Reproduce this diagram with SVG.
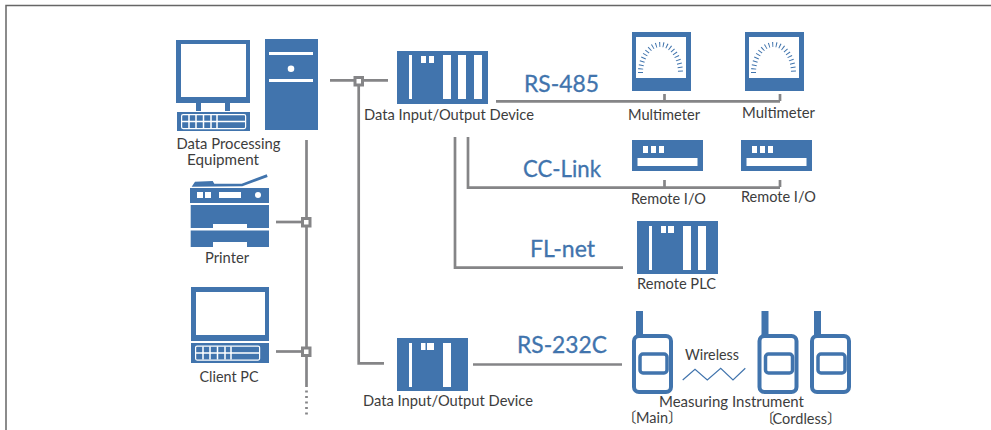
<svg xmlns="http://www.w3.org/2000/svg" width="991" height="430" viewBox="0 0 991 430">
<style>
.b{fill:#4174ad}
.w{fill:#fff}
.l{font-family:Lato,"Noto Sans","Liberation Sans",sans-serif;font-size:15px;fill:#3d3d3d;text-anchor:middle}
.s{font-family:Lato,"Noto Sans CJK JP",sans-serif;font-size:14.500px;fill:#3d3d3d}
.t{font-family:Lato,"Noto Sans","Liberation Sans",sans-serif;font-size:23px;font-weight:400;fill:#4174ad;stroke:#4174ad;stroke-width:.3;text-anchor:middle}
.c{fill:none;stroke:#858587;stroke-width:2.7}
.j{fill:#fff;stroke:#858587;stroke-width:3}
.o{fill:none;stroke:#4174ad}
</style>
<defs>
<g id="meter">
<rect class="b" width="59" height="59"/>
<rect class="w" x="4" y="5" width="50" height="41"/>
<path class="o" d="M8.500 41A20 28.500 0 0 1 48.500 41" stroke-width="5" stroke-dasharray="1 2.700"/>
</g>
<g id="rio">
<rect class="b" width="71" height="31"/>
<rect class="w" x="5.500" y="18" width="60" height="8"/>
<rect class="w" x="11" y="6" width="5" height="7"/>
<rect class="w" x="19" y="6" width="5" height="7"/>
<rect class="w" x="27" y="6" width="5" height="7"/>
</g>
<g id="radio">
<rect class="b" x="4" y="0" width="7" height="25"/>
<rect class="o" x="2" y="25" width="37" height="56" rx="5" fill="#fff" stroke-width="4"/>
<rect class="o" x="8" y="43" width="27" height="19" rx="3" stroke-width="3.500"/>
</g>
<g id="keys">
<rect x="0.600" y="0.600" width="64" height="14" rx="1.500" fill="none" stroke="#fff" stroke-width="1.200"/>
<path d="M1 7.500H64M8 1V14M15 1V14M22.500 1V14M30 1V14M36 1V14" stroke="#fff" stroke-width="1.500" fill="none"/>
</g>
</defs>
<path d="M6 430V5.500H991" fill="none" stroke="#666" stroke-width="1.500"/>
<g id="connectors">
<path class="c" d="M330 80.300H388"/>
<path class="c" d="M358.700 82V363.300H384"/>
<path class="c" d="M306.500 140V385"/>
<path class="c" d="M306.500 385V415" stroke-dasharray="2 3.500"/>
<path class="c" d="M276 222H306"/>
<path class="c" d="M276 351.500H306"/>
<path class="c" d="M496 101.300H780M664.500 94V101M780 94V101"/>
<path class="c" d="M468 137V187.700H780M664.500 180V187M780 180V187"/>
<path class="c" d="M455 137V267.700H623"/>
<path class="c" d="M473 364.500H622"/>
<rect class="j" x="355" y="77.500" width="7.500" height="7.500"/>
<rect class="j" x="302.500" y="218.500" width="7.500" height="7.500"/>
<rect class="j" x="302.500" y="348" width="7.500" height="7.500"/>
</g>
<g id="data-processing">
<path class="b" fill-rule="evenodd" d="M176 40H250V103H176ZM181 44V97H246V44Z"/>
<rect class="b" x="196" y="103" width="5" height="8"/>
<rect class="b" x="225" y="103" width="5" height="8"/>
<rect class="b" x="177" y="112" width="73" height="19"/>
<use href="#keys" x="181" y="114"/>
<rect class="b" x="265" y="39" width="53" height="91"/>
<rect class="w" x="269" y="52" width="44" height="3"/>
<rect class="w" x="269" y="79" width="44" height="3"/>
<circle class="w" cx="291" cy="68.700" r="3.300"/>
<text class="l" x="228.500" y="149" textLength="104" lengthAdjust="spacingAndGlyphs">Data Processing</text>
<text class="l" x="223" y="165" textLength="72" lengthAdjust="spacingAndGlyphs">Equipment</text>
</g>
<g id="printer">
<path class="b" d="M191.700 186.700L195 181.700L212.700 181L214.300 183.700H241.700L266.700 174.300L267.700 177L242.300 186.300Z"/>
<rect class="b" x="190" y="188" width="79" height="15"/>
<rect class="w" x="197" y="192" width="6" height="6"/>
<rect class="w" x="205" y="192" width="6" height="6"/>
<rect class="w" x="219" y="192" width="22" height="6"/>
<circle class="w" cx="258" cy="195" r="3"/>
<path class="b" d="M190.700 205H269V228H247V224H213V228H190.700Z"/>
<path class="b" d="M190.700 230.500H269V247H247V242H213V247H190.700Z"/>
<text class="l" x="227" y="263" textLength="44" lengthAdjust="spacingAndGlyphs">Printer</text>
</g>
<g id="client-pc">
<path class="b" fill-rule="evenodd" d="M191 287H269V341H191ZM196 292V335H265V292Z"/>
<rect class="b" x="191" y="343" width="78" height="20"/>
<use href="#keys" x="195" y="345.500"/>
<text class="l" x="229" y="382" textLength="59" lengthAdjust="spacingAndGlyphs">Client PC</text>
</g>
<g id="io-device-1">
<rect class="b" x="397" y="51" width="91" height="53"/>
<rect class="w" x="409" y="55" width="3" height="44"/>
<rect class="w" x="421" y="56" width="5" height="7"/>
<rect class="w" x="429" y="56" width="5" height="7"/>
<rect class="w" x="443" y="55" width="8" height="44"/>
<rect class="w" x="458" y="55" width="8" height="44"/>
<rect class="w" x="474" y="55" width="8" height="44"/>
<text class="l" x="449" y="120" textLength="170" lengthAdjust="spacingAndGlyphs">Data Input/Output Device</text>
</g>
<g id="multimeter-1">
<use href="#meter" x="632" y="32"/>
<text class="l" x="664" y="120" textLength="72" lengthAdjust="spacingAndGlyphs">Multimeter</text>
</g>
<g id="multimeter-2">
<use href="#meter" x="745" y="32"/>
<text class="l" x="778.500" y="118" textLength="73" lengthAdjust="spacingAndGlyphs">Multimeter</text>
</g>
<g id="remote-io-1">
<use href="#rio" x="632" y="140"/>
<text class="l" x="668.500" y="204" textLength="75" lengthAdjust="spacingAndGlyphs">Remote I/O</text>
</g>
<g id="remote-io-2">
<use href="#rio" x="741" y="140"/>
<text class="l" x="778.500" y="202" textLength="75" lengthAdjust="spacingAndGlyphs">Remote I/O</text>
</g>
<g id="remote-plc">
<rect class="b" x="637" y="221" width="81" height="53"/>
<rect class="w" x="649" y="226" width="3" height="44"/>
<rect class="w" x="661" y="226" width="5" height="7"/>
<rect class="w" x="668" y="226" width="6" height="7"/>
<rect class="w" x="683" y="226" width="8" height="44"/>
<rect class="w" x="698" y="226" width="8" height="44"/>
<text class="l" x="676.500" y="289" textLength="79" lengthAdjust="spacingAndGlyphs">Remote PLC</text>
</g>
<g id="io-device-2">
<rect class="b" x="397" y="338" width="71" height="53"/>
<rect class="w" x="409" y="343" width="3" height="44"/>
<rect class="w" x="421" y="343" width="4.500" height="7"/>
<rect class="w" x="427" y="343" width="7" height="7"/>
<rect class="w" x="443" y="343" width="8" height="44"/>
<text class="l" x="448" y="406" textLength="170" lengthAdjust="spacingAndGlyphs">Data Input/Output Device</text>
</g>
<g id="measuring-instrument">
<use href="#radio" x="632" y="311"/>
<use href="#radio" x="757.500" y="311"/>
<use href="#radio" x="810" y="311"/>
<text class="l" x="712" y="360" textLength="54" lengthAdjust="spacingAndGlyphs">Wireless</text>
<path class="o" d="M682.700 380L695 369.300L707.300 380L720.700 368.300L733 380L745.300 368.300" stroke-width="1.200"/>
<text class="l" x="731.500" y="407" textLength="145" lengthAdjust="spacingAndGlyphs">Measuring Instrument</text>
<text class="s" x="622" y="423">〔<tspan dx="-0.500">Main</tspan>〕</text>
<text class="s" x="760" y="424">〔<tspan dx="-2">Cordless</tspan>〕</text>
</g>
<g id="connector-labels">
<text class="t" x="561.500" y="92" textLength="75" lengthAdjust="spacingAndGlyphs">RS-485</text>
<text class="t" x="562" y="177" textLength="78" lengthAdjust="spacingAndGlyphs">CC-Link</text>
<text class="t" x="562.500" y="257" textLength="65" lengthAdjust="spacingAndGlyphs">FL-net</text>
<text class="t" x="562" y="353" textLength="90" lengthAdjust="spacingAndGlyphs">RS-232C</text>
</g>
</svg>
